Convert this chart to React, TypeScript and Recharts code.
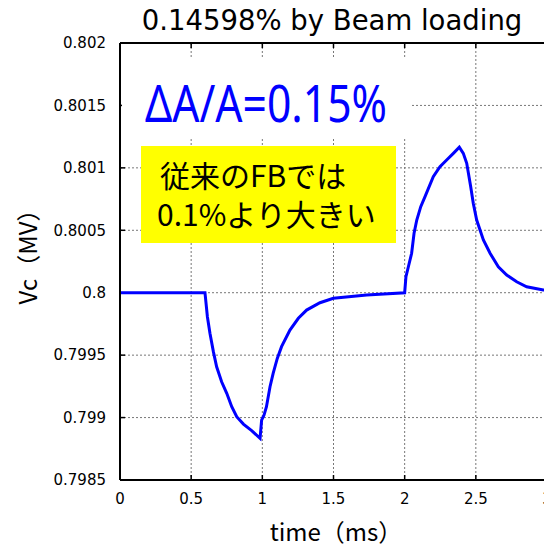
import {
  LineChart,
  Line,
  XAxis,
  YAxis,
  CartesianGrid,
  ReferenceLine,
} from "recharts";

// cavity voltage response to beam loading (time in ms, Vc in MV)
const timeMs = [
  0, 0.597, 0.614, 0.632, 0.656, 0.679, 0.714, 0.75, 0.785, 0.82, 0.867, 0.925,
  0.984, 0.995, 1.012, 1.029, 1.054, 1.076, 1.105, 1.135, 1.194, 1.253, 1.311,
  1.405, 1.499, 1.733, 2.0, 2.009, 2.026, 2.049, 2.066, 2.085, 2.113, 2.143,
  2.201, 2.248, 2.295, 2.342, 2.384, 2.412, 2.436, 2.464, 2.482, 2.506, 2.553,
  2.6, 2.658, 2.717, 2.787, 2.857, 2.974, 3.0,
];
const vcMV = [
  0.8, 0.8, 0.799808, 0.799675, 0.799528, 0.799407, 0.799287, 0.799194,
  0.799087, 0.799007, 0.798948, 0.798895, 0.798834, 0.79898, 0.79902,
  0.799087, 0.799247, 0.799354, 0.799474, 0.799568, 0.799701, 0.799795,
  0.799861, 0.79992, 0.799955, 0.799982, 0.8, 0.800128, 0.800208, 0.800316,
  0.800476, 0.800582, 0.800689, 0.800769, 0.800929, 0.801009, 0.801063,
  0.801116, 0.801165, 0.801116, 0.801036, 0.800849, 0.800716, 0.800582,
  0.800422, 0.800316, 0.800208, 0.800142, 0.800088, 0.800048, 0.800022,
  0.80002,
];

const xTicks = [0, 0.5, 1, 1.5, 2, 2.5, 3];
const yTicks = [0.7985, 0.799, 0.7995, 0.8, 0.8005, 0.801, 0.8015, 0.802];
const yTickLabels = ["0.7985", "0.799", "0.7995", "0.8", "0.8005", "0.801", "0.8015", "0.802"];

const data = timeMs.map((t, i) => ({ t, vc: vcMV[i] }));

const PLOT_TOP = 43;
const PLOT_BOTTOM = 480;
const TICK_LEN = 5;
// inward tick length on the left edge, in ms
const Y_TICK_LEN_MS = 0.035;

// bottom tick: label plus inward tick marks on bottom and top edges
const XTick = (props: any) => {
  const { x, y, payload } = props;
  return (
    <g>
      <line x1={x} x2={x} y1={PLOT_BOTTOM} y2={PLOT_BOTTOM - TICK_LEN} stroke="#000" strokeWidth={1.5} />
      <line x1={x} x2={x} y1={PLOT_TOP} y2={PLOT_TOP + TICK_LEN} stroke="#000" strokeWidth={1.5} />
      <text x={x} y={y} dy="0.75em" textAnchor="middle" fontFamily="DejaVu Sans" fontSize={15} fill="#000">
        {String(payload.value)}
      </text>
    </g>
  );
};

const App = () => {
  return (
    <div style={{ position: "relative", width: 544, height: 547, overflow: "hidden", background: "#fff" }}>
      <style>{"body{margin:0}"}</style>
      <LineChart width={560} height={547} data={data} margin={{ top: 43, right: 13, bottom: 37, left: 10 }}>
        <CartesianGrid stroke="#777" strokeDasharray="2 2" />
        <XAxis
          dataKey="t"
          type="number"
          domain={[0, 3]}
          ticks={xTicks}
          tickLine={false}
          tickSize={0}
          tickMargin={13}
          axisLine={{ stroke: "#000", strokeWidth: 2 }}
          tick={<XTick />}
          height={30}
        />
        <YAxis
          type="number"
          domain={[0.7985, 0.802]}
          ticks={yTicks}
          width={110}
          tickLine={false}
          tickSize={0}
          axisLine={{ stroke: "#000", strokeWidth: 2 }}
          tick={{ fontFamily: "DejaVu Sans", fontSize: 15, fill: "#000", dx: -12 }}
          tickFormatter={(v: number) => yTickLabels[yTicks.indexOf(v)] ?? String(v)}
        />
        {/* top frame edge */}
        <ReferenceLine y={0.802} stroke="#000" strokeWidth={2} />
        {/* inward tick marks on the left edge */}
        {yTicks.map((v) => (
          <ReferenceLine
            key={v}
            segment={[
              { x: 0, y: v },
              { x: Y_TICK_LEN_MS, y: v },
            ]}
            stroke="#000"
            strokeWidth={1.5}
          />
        ))}
        <Line dataKey="vc" type="linear" stroke="#0000ff" strokeWidth={3} dot={false} isAnimationActive={false} />
      </LineChart>

      {/* title, axis titles and annotations */}
      <svg width={544} height={547} style={{ position: "absolute", left: 0, top: 0, pointerEvents: "none" }}>
        <text x={332} y={30} textAnchor="middle" fontFamily="DejaVu Sans" fontSize={27.5} fill="#000">
          0.14598% by Beam loading
        </text>
        <rect x={122} y={58} width={290} height={79} fill="#fff" />
        <text
          x={145}
          y={122}
          fontFamily="Noto Sans"
          fontSize={51}
          fill="#0000ff"
          textLength={242}
          lengthAdjust="spacingAndGlyphs"
        >
          ΔA/A=0.15%
        </text>
        <rect x={141} y={146} width={255} height={97} fill="#ffff00" />
        <text x={160} y={187} fontFamily="Noto Sans CJK JP" fontSize={30} fill="#000">
          従来のFBでは
        </text>
        <text x={157} y={226} fontFamily="Noto Sans CJK JP" fontSize={30} fill="#000">
          0.1%より大きい
        </text>
        <text x={336} y={541} textAnchor="middle" fontFamily="Noto Sans CJK JP" fontSize={24} fill="#000">
          time（ms）
        </text>
        <text
          x={37}
          y={251}
          textAnchor="middle"
          fontFamily="Noto Sans CJK JP"
          fontSize={24}
          fill="#000"
          transform="rotate(-90 37 251)"
        >
          Vc（MV）
        </text>
      </svg>
    </div>
  );
};

export default App;
